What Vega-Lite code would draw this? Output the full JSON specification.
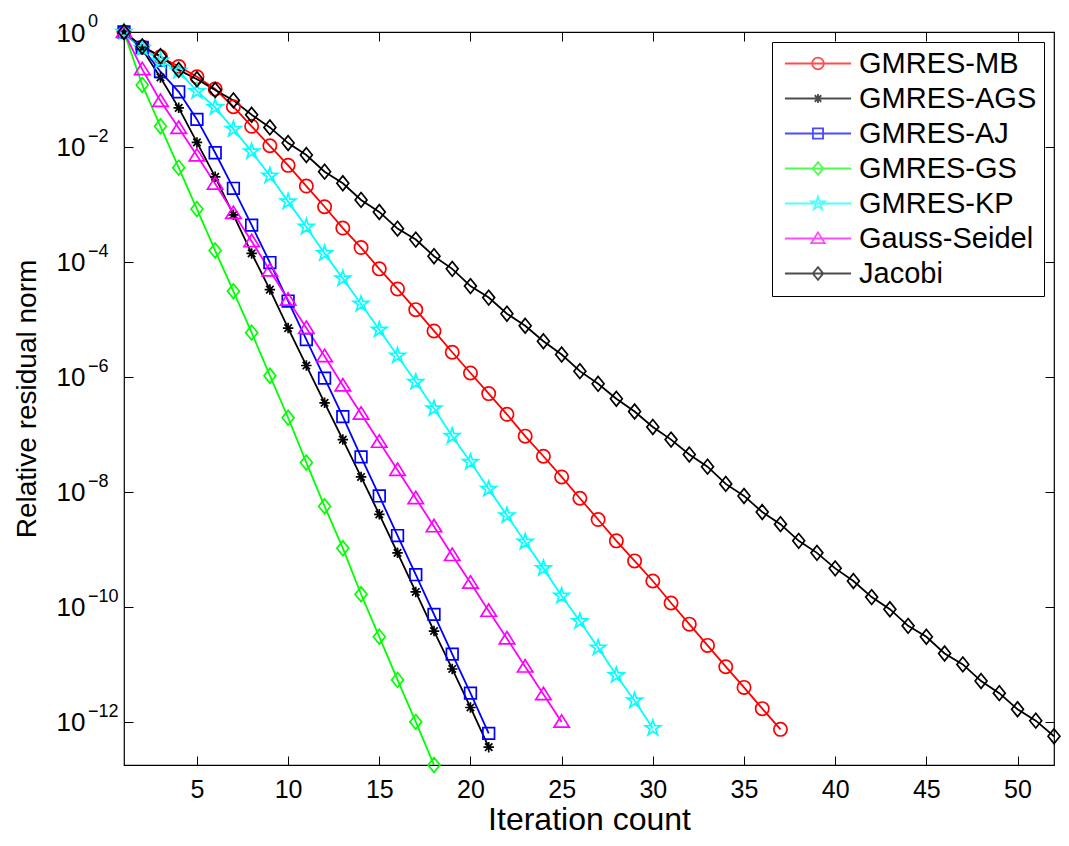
{
  "$schema": "https://vega.github.io/schema/vega-lite/v6.json",
  "width": 930,
  "height": 733,
  "autosize": {"type": "none"},
  "padding": {"left": 124, "top": 32, "right": 15, "bottom": 81},
  "background": "white",
  "config": {
    "view": {"stroke": "black", "strokeWidth": 1.2},
    "font": "Liberation Sans",
    "axis": {
      "domain": false,
      "grid": false,
      "tickColor": "black",
      "tickWidth": 1,
      "labelFont": "Liberation Sans",
      "labelFontSize": 25,
      "labelColor": "black",
      "titleFont": "Liberation Sans",
      "titleFontSize": 30,
      "titleFontWeight": "normal",
      "titleColor": "black"
    },
    "legend": {
      "labelFont": "Liberation Sans",
      "labelFontSize": 29,
      "labelColor": "black"
    }
  },
  "datasets": {
    "exponents": [
      {"tick": 1, "exp": "0"},
      {"tick": 1e-2, "exp": "−2"},
      {"tick": 1e-4, "exp": "−4"},
      {"tick": 1e-6, "exp": "−6"},
      {"tick": 1e-8, "exp": "−8"},
      {"tick": 1e-10, "exp": "−10"},
      {"tick": 1e-12, "exp": "−12"}
    ],
    "conv": [
      {"method": "GMRES-MB", "iter": 1, "residual": 1},
      {"method": "GMRES-MB", "iter": 2, "residual": 5.5e-1},
      {"method": "GMRES-MB", "iter": 3, "residual": 3.7e-1},
      {"method": "GMRES-MB", "iter": 4, "residual": 2.51e-1},
      {"method": "GMRES-MB", "iter": 5, "residual": 1.66e-1},
      {"method": "GMRES-MB", "iter": 6, "residual": 1.02e-1},
      {"method": "GMRES-MB", "iter": 7, "residual": 5.01e-2},
      {"method": "GMRES-MB", "iter": 8, "residual": 2.29e-2},
      {"method": "GMRES-MB", "iter": 9, "residual": 1.05e-2},
      {"method": "GMRES-MB", "iter": 10, "residual": 4.79e-3},
      {"method": "GMRES-MB", "iter": 11, "residual": 2.09e-3},
      {"method": "GMRES-MB", "iter": 12, "residual": 9.12e-4},
      {"method": "GMRES-MB", "iter": 13, "residual": 3.89e-4},
      {"method": "GMRES-MB", "iter": 14, "residual": 1.78e-4},
      {"method": "GMRES-MB", "iter": 15, "residual": 7.59e-5},
      {"method": "GMRES-MB", "iter": 16, "residual": 3.39e-5},
      {"method": "GMRES-MB", "iter": 17, "residual": 1.48e-5},
      {"method": "GMRES-MB", "iter": 18, "residual": 6.31e-6},
      {"method": "GMRES-MB", "iter": 19, "residual": 2.69e-6},
      {"method": "GMRES-MB", "iter": 20, "residual": 1.17e-6},
      {"method": "GMRES-MB", "iter": 21, "residual": 5.13e-7},
      {"method": "GMRES-MB", "iter": 22, "residual": 2.24e-7},
      {"method": "GMRES-MB", "iter": 23, "residual": 9.33e-8},
      {"method": "GMRES-MB", "iter": 24, "residual": 4.17e-8},
      {"method": "GMRES-MB", "iter": 25, "residual": 1.82e-8},
      {"method": "GMRES-MB", "iter": 26, "residual": 7.76e-9},
      {"method": "GMRES-MB", "iter": 27, "residual": 3.31e-9},
      {"method": "GMRES-MB", "iter": 28, "residual": 1.41e-9},
      {"method": "GMRES-MB", "iter": 29, "residual": 6.31e-10},
      {"method": "GMRES-MB", "iter": 30, "residual": 2.82e-10},
      {"method": "GMRES-MB", "iter": 31, "residual": 1.17e-10},
      {"method": "GMRES-MB", "iter": 32, "residual": 5.01e-11},
      {"method": "GMRES-MB", "iter": 33, "residual": 2.14e-11},
      {"method": "GMRES-MB", "iter": 34, "residual": 9.12e-12},
      {"method": "GMRES-MB", "iter": 35, "residual": 3.98e-12},
      {"method": "GMRES-MB", "iter": 36, "residual": 1.70e-12},
      {"method": "GMRES-MB", "iter": 37, "residual": 7.41e-13},

      {"method": "GMRES-AGS", "iter": 1, "residual": 1},
      {"method": "GMRES-AGS", "iter": 2, "residual": 5.01e-1},
      {"method": "GMRES-AGS", "iter": 3, "residual": 1.62e-1},
      {"method": "GMRES-AGS", "iter": 4, "residual": 4.79e-2},
      {"method": "GMRES-AGS", "iter": 5, "residual": 1.20e-2},
      {"method": "GMRES-AGS", "iter": 6, "residual": 3.02e-3},
      {"method": "GMRES-AGS", "iter": 7, "residual": 6.61e-4},
      {"method": "GMRES-AGS", "iter": 8, "residual": 1.41e-4},
      {"method": "GMRES-AGS", "iter": 9, "residual": 3.31e-5},
      {"method": "GMRES-AGS", "iter": 10, "residual": 7.08e-6},
      {"method": "GMRES-AGS", "iter": 11, "residual": 1.58e-6},
      {"method": "GMRES-AGS", "iter": 12, "residual": 3.55e-7},
      {"method": "GMRES-AGS", "iter": 13, "residual": 8.13e-8},
      {"method": "GMRES-AGS", "iter": 14, "residual": 1.82e-8},
      {"method": "GMRES-AGS", "iter": 15, "residual": 4.07e-9},
      {"method": "GMRES-AGS", "iter": 16, "residual": 8.71e-10},
      {"method": "GMRES-AGS", "iter": 17, "residual": 1.82e-10},
      {"method": "GMRES-AGS", "iter": 18, "residual": 3.80e-11},
      {"method": "GMRES-AGS", "iter": 19, "residual": 8.32e-12},
      {"method": "GMRES-AGS", "iter": 20, "residual": 1.78e-12},
      {"method": "GMRES-AGS", "iter": 21, "residual": 3.63e-13},

      {"method": "GMRES-AJ", "iter": 1, "residual": 1},
      {"method": "GMRES-AJ", "iter": 2, "residual": 5.37e-1},
      {"method": "GMRES-AJ", "iter": 3, "residual": 2.04e-1},
      {"method": "GMRES-AJ", "iter": 4, "residual": 9.12e-2},
      {"method": "GMRES-AJ", "iter": 5, "residual": 3.02e-2},
      {"method": "GMRES-AJ", "iter": 6, "residual": 7.94e-3},
      {"method": "GMRES-AJ", "iter": 7, "residual": 1.91e-3},
      {"method": "GMRES-AJ", "iter": 8, "residual": 4.37e-4},
      {"method": "GMRES-AJ", "iter": 9, "residual": 9.77e-5},
      {"method": "GMRES-AJ", "iter": 10, "residual": 2.09e-5},
      {"method": "GMRES-AJ", "iter": 11, "residual": 4.47e-6},
      {"method": "GMRES-AJ", "iter": 12, "residual": 9.55e-7},
      {"method": "GMRES-AJ", "iter": 13, "residual": 2.04e-7},
      {"method": "GMRES-AJ", "iter": 14, "residual": 4.07e-8},
      {"method": "GMRES-AJ", "iter": 15, "residual": 8.51e-9},
      {"method": "GMRES-AJ", "iter": 16, "residual": 1.74e-9},
      {"method": "GMRES-AJ", "iter": 17, "residual": 3.63e-10},
      {"method": "GMRES-AJ", "iter": 18, "residual": 7.41e-11},
      {"method": "GMRES-AJ", "iter": 19, "residual": 1.51e-11},
      {"method": "GMRES-AJ", "iter": 20, "residual": 3.16e-12},
      {"method": "GMRES-AJ", "iter": 21, "residual": 6.31e-13},

      {"method": "GMRES-GS", "iter": 1, "residual": 1},
      {"method": "GMRES-GS", "iter": 2, "residual": 1.20e-1},
      {"method": "GMRES-GS", "iter": 3, "residual": 2.29e-2},
      {"method": "GMRES-GS", "iter": 4, "residual": 4.37e-3},
      {"method": "GMRES-GS", "iter": 5, "residual": 8.32e-4},
      {"method": "GMRES-GS", "iter": 6, "residual": 1.58e-4},
      {"method": "GMRES-GS", "iter": 7, "residual": 3.09e-5},
      {"method": "GMRES-GS", "iter": 8, "residual": 5.89e-6},
      {"method": "GMRES-GS", "iter": 9, "residual": 1.05e-6},
      {"method": "GMRES-GS", "iter": 10, "residual": 1.95e-7},
      {"method": "GMRES-GS", "iter": 11, "residual": 3.24e-8},
      {"method": "GMRES-GS", "iter": 12, "residual": 5.62e-9},
      {"method": "GMRES-GS", "iter": 13, "residual": 1.05e-9},
      {"method": "GMRES-GS", "iter": 14, "residual": 1.66e-10},
      {"method": "GMRES-GS", "iter": 15, "residual": 3.02e-11},
      {"method": "GMRES-GS", "iter": 16, "residual": 5.37e-12},
      {"method": "GMRES-GS", "iter": 17, "residual": 1.00e-12},
      {"method": "GMRES-GS", "iter": 18, "residual": 1.78e-13},

      {"method": "GMRES-KP", "iter": 1, "residual": 1},
      {"method": "GMRES-KP", "iter": 2, "residual": 5.25e-1},
      {"method": "GMRES-KP", "iter": 3, "residual": 3.16e-1},
      {"method": "GMRES-KP", "iter": 4, "residual": 2.09e-1},
      {"method": "GMRES-KP", "iter": 5, "residual": 9.33e-2},
      {"method": "GMRES-KP", "iter": 6, "residual": 4.90e-2},
      {"method": "GMRES-KP", "iter": 7, "residual": 2.04e-2},
      {"method": "GMRES-KP", "iter": 8, "residual": 8.32e-3},
      {"method": "GMRES-KP", "iter": 9, "residual": 3.16e-3},
      {"method": "GMRES-KP", "iter": 10, "residual": 1.12e-3},
      {"method": "GMRES-KP", "iter": 11, "residual": 4.07e-4},
      {"method": "GMRES-KP", "iter": 12, "residual": 1.41e-4},
      {"method": "GMRES-KP", "iter": 13, "residual": 5.13e-5},
      {"method": "GMRES-KP", "iter": 14, "residual": 1.86e-5},
      {"method": "GMRES-KP", "iter": 15, "residual": 6.61e-6},
      {"method": "GMRES-KP", "iter": 16, "residual": 2.34e-6},
      {"method": "GMRES-KP", "iter": 17, "residual": 8.13e-7},
      {"method": "GMRES-KP", "iter": 18, "residual": 2.82e-7},
      {"method": "GMRES-KP", "iter": 19, "residual": 9.33e-8},
      {"method": "GMRES-KP", "iter": 20, "residual": 3.31e-8},
      {"method": "GMRES-KP", "iter": 21, "residual": 1.12e-8},
      {"method": "GMRES-KP", "iter": 22, "residual": 3.89e-9},
      {"method": "GMRES-KP", "iter": 23, "residual": 1.35e-9},
      {"method": "GMRES-KP", "iter": 24, "residual": 4.68e-10},
      {"method": "GMRES-KP", "iter": 25, "residual": 1.55e-10},
      {"method": "GMRES-KP", "iter": 26, "residual": 5.62e-11},
      {"method": "GMRES-KP", "iter": 27, "residual": 1.95e-11},
      {"method": "GMRES-KP", "iter": 28, "residual": 6.46e-12},
      {"method": "GMRES-KP", "iter": 29, "residual": 2.34e-12},
      {"method": "GMRES-KP", "iter": 30, "residual": 7.76e-13},

      {"method": "Gauss-Seidel", "iter": 1, "residual": 1},
      {"method": "Gauss-Seidel", "iter": 2, "residual": 2.24e-1},
      {"method": "Gauss-Seidel", "iter": 3, "residual": 6.31e-2},
      {"method": "Gauss-Seidel", "iter": 4, "residual": 2.14e-2},
      {"method": "Gauss-Seidel", "iter": 5, "residual": 7.08e-3},
      {"method": "Gauss-Seidel", "iter": 6, "residual": 2.29e-3},
      {"method": "Gauss-Seidel", "iter": 7, "residual": 7.08e-4},
      {"method": "Gauss-Seidel", "iter": 8, "residual": 2.29e-4},
      {"method": "Gauss-Seidel", "iter": 9, "residual": 7.08e-5},
      {"method": "Gauss-Seidel", "iter": 10, "residual": 2.19e-5},
      {"method": "Gauss-Seidel", "iter": 11, "residual": 7.08e-6},
      {"method": "Gauss-Seidel", "iter": 12, "residual": 2.29e-6},
      {"method": "Gauss-Seidel", "iter": 13, "residual": 7.08e-7},
      {"method": "Gauss-Seidel", "iter": 14, "residual": 2.29e-7},
      {"method": "Gauss-Seidel", "iter": 15, "residual": 7.41e-8},
      {"method": "Gauss-Seidel", "iter": 16, "residual": 2.40e-8},
      {"method": "Gauss-Seidel", "iter": 17, "residual": 7.76e-9},
      {"method": "Gauss-Seidel", "iter": 18, "residual": 2.51e-9},
      {"method": "Gauss-Seidel", "iter": 19, "residual": 7.94e-10},
      {"method": "Gauss-Seidel", "iter": 20, "residual": 2.63e-10},
      {"method": "Gauss-Seidel", "iter": 21, "residual": 8.51e-11},
      {"method": "Gauss-Seidel", "iter": 22, "residual": 2.82e-11},
      {"method": "Gauss-Seidel", "iter": 23, "residual": 9.12e-12},
      {"method": "Gauss-Seidel", "iter": 24, "residual": 3.02e-12},
      {"method": "Gauss-Seidel", "iter": 25, "residual": 1.00e-12},

      {"method": "Jacobi", "iter": 1, "residual": 1},
      {"method": "Jacobi", "iter": 2, "residual": 5.62e-1},
      {"method": "Jacobi", "iter": 3, "residual": 3.80e-1},
      {"method": "Jacobi", "iter": 4, "residual": 2.19e-1},
      {"method": "Jacobi", "iter": 5, "residual": 1.51e-1},
      {"method": "Jacobi", "iter": 6, "residual": 9.77e-2},
      {"method": "Jacobi", "iter": 7, "residual": 6.46e-2},
      {"method": "Jacobi", "iter": 8, "residual": 3.63e-2},
      {"method": "Jacobi", "iter": 9, "residual": 2.19e-2},
      {"method": "Jacobi", "iter": 10, "residual": 1.17e-2},
      {"method": "Jacobi", "iter": 11, "residual": 7.24e-3},
      {"method": "Jacobi", "iter": 12, "residual": 3.72e-3},
      {"method": "Jacobi", "iter": 13, "residual": 2.34e-3},
      {"method": "Jacobi", "iter": 14, "residual": 1.20e-3},
      {"method": "Jacobi", "iter": 15, "residual": 7.41e-4},
      {"method": "Jacobi", "iter": 16, "residual": 3.80e-4},
      {"method": "Jacobi", "iter": 17, "residual": 2.45e-4},
      {"method": "Jacobi", "iter": 18, "residual": 1.26e-4},
      {"method": "Jacobi", "iter": 19, "residual": 7.59e-5},
      {"method": "Jacobi", "iter": 20, "residual": 3.80e-5},
      {"method": "Jacobi", "iter": 21, "residual": 2.40e-5},
      {"method": "Jacobi", "iter": 22, "residual": 1.26e-5},
      {"method": "Jacobi", "iter": 23, "residual": 7.76e-6},
      {"method": "Jacobi", "iter": 24, "residual": 4.17e-6},
      {"method": "Jacobi", "iter": 25, "residual": 2.45e-6},
      {"method": "Jacobi", "iter": 26, "residual": 1.26e-6},
      {"method": "Jacobi", "iter": 27, "residual": 7.59e-7},
      {"method": "Jacobi", "iter": 28, "residual": 4.17e-7},
      {"method": "Jacobi", "iter": 29, "residual": 2.51e-7},
      {"method": "Jacobi", "iter": 30, "residual": 1.35e-7},
      {"method": "Jacobi", "iter": 31, "residual": 8.13e-8},
      {"method": "Jacobi", "iter": 32, "residual": 4.47e-8},
      {"method": "Jacobi", "iter": 33, "residual": 2.75e-8},
      {"method": "Jacobi", "iter": 34, "residual": 1.38e-8},
      {"method": "Jacobi", "iter": 35, "residual": 8.51e-9},
      {"method": "Jacobi", "iter": 36, "residual": 4.47e-9},
      {"method": "Jacobi", "iter": 37, "residual": 2.75e-9},
      {"method": "Jacobi", "iter": 38, "residual": 1.41e-9},
      {"method": "Jacobi", "iter": 39, "residual": 8.71e-10},
      {"method": "Jacobi", "iter": 40, "residual": 4.68e-10},
      {"method": "Jacobi", "iter": 41, "residual": 2.82e-10},
      {"method": "Jacobi", "iter": 42, "residual": 1.48e-10},
      {"method": "Jacobi", "iter": 43, "residual": 9.12e-11},
      {"method": "Jacobi", "iter": 44, "residual": 4.68e-11},
      {"method": "Jacobi", "iter": 45, "residual": 3.02e-11},
      {"method": "Jacobi", "iter": 46, "residual": 1.55e-11},
      {"method": "Jacobi", "iter": 47, "residual": 1.00e-11},
      {"method": "Jacobi", "iter": 48, "residual": 5.13e-12},
      {"method": "Jacobi", "iter": 49, "residual": 3.16e-12},
      {"method": "Jacobi", "iter": 50, "residual": 1.66e-12},
      {"method": "Jacobi", "iter": 51, "residual": 1.05e-12},
      {"method": "Jacobi", "iter": 52, "residual": 5.62e-13}
    ]
  },
  "resolve": {
    "axis": {"x": "independent", "y": "independent"},
    "scale": {"color": "independent", "shape": "independent", "stroke": "independent"}
  },
  "layer": [
    {
      "data": {"name": "conv"},
      "mark": {"type": "line", "strokeWidth": 1.8, "clip": false},
      "encoding": {
        "x": {
          "field": "iter", "type": "quantitative",
          "scale": {"domain": [1, 52], "nice": false, "zero": false},
          "axis": {"orient": "bottom", "values": [5, 10, 15, 20, 25, 30, 35, 40, 45, 50], "tickSize": -9, "labelPadding": 21, "title": "Iteration count", "titleFontSize": 32, "titlePadding": 2, "labelFlush": false}
        },
        "y": {
          "field": "residual", "type": "quantitative",
          "scale": {"type": "log", "domain": [1.778e-13, 1], "nice": false},
          "axis": {
            "orient": "left",
            "values": [1e-12, 1e-10, 1e-8, 1e-6, 1e-4, 1e-2, 1],
            "tickSize": -9,
            "labelPadding": 48,
            "labelAlign": "right",
            "labelBaseline": "middle",
            "labelFontSize": 26,
            "labelOffset": 1,
            "labelFlush": false,
            "labelExpr": "'10'",
            "title": "Relative residual norm",
            "titleFontSize": 28,
            "titlePadding": 15
          }
        },
        "color": {
          "field": "method", "type": "nominal",
          "scale": {
            "domain": ["GMRES-MB", "GMRES-AGS", "GMRES-AJ", "GMRES-GS", "GMRES-KP", "Gauss-Seidel", "Jacobi"],
            "range": ["#ff0000", "#000000", "#0000ff", "#00ff00", "#00ffff", "#ff00ff", "#000000"]
          },
          "legend": null
        }
      }
    },
    {
      "data": {"name": "conv"},
      "mark": {"type": "point", "filled": false, "strokeWidth": 1.7, "size": 196, "opacity": 1, "clip": false},
      "encoding": {
        "x": {
          "field": "iter", "type": "quantitative",
          "axis": {"orient": "top", "values": [5, 10, 15, 20, 25, 30, 35, 40, 45, 50], "tickSize": -9, "labels": false, "title": null}
        },
        "y": {
          "field": "residual", "type": "quantitative",
          "axis": {"orient": "right", "values": [1e-12, 1e-10, 1e-8, 1e-6, 1e-4, 1e-2, 1], "tickSize": -9, "labels": false, "title": null}
        },
        "stroke": {
          "field": "method", "type": "nominal",
          "scale": {
            "domain": ["GMRES-MB", "GMRES-AGS", "GMRES-AJ", "GMRES-GS", "GMRES-KP", "Gauss-Seidel", "Jacobi"],
            "range": ["#ff0000", "#000000", "#0000ff", "#00ff00", "#00ffff", "#ff00ff", "#000000"]
          },
          "legend": null
        },
        "shape": {
          "field": "method", "type": "nominal",
          "scale": {
            "domain": ["GMRES-MB", "GMRES-AGS", "GMRES-AJ", "GMRES-GS", "GMRES-KP", "Gauss-Seidel", "Jacobi"],
            "range": [
              "M0.95,0 A0.95,0.95 0 1,1 -0.95,0 A0.95,0.95 0 1,1 0.95,0 Z",
              "M0,-0.75 V0.75 M-0.75,0 H0.75 M-0.53,-0.53 L0.53,0.53 M-0.53,0.53 L0.53,-0.53",
              "M-0.83,-0.83 H0.83 V0.83 H-0.83 Z",
              "M0,-1.05 L0.85,0 L0,1.05 L-0.85,0 Z",
              "M0,-1.15 L0.259,-0.355 L1.094,-0.355 L0.417,0.136 L0.676,0.93 L0,0.439 L-0.676,0.93 L-0.417,0.136 L-1.094,-0.355 L-0.259,-0.355 Z",
              "M0,-1 L1.1,0.76 L-1.1,0.76 Z",
              "M0,-1.05 L0.85,0 L0,1.05 L-0.85,0 Z"
            ]
          },
          "legend": null
        }
      }
    },
    {
      "data": {"name": "exponents"},
      "mark": {"type": "text", "align": "left", "baseline": "middle", "font": "Liberation Sans", "fontSize": 18, "color": "black", "dx": -36, "dy": -10},
      "encoding": {
        "x": {"datum": 1, "type": "quantitative", "axis": null},
        "y": {"field": "tick", "type": "quantitative", "axis": null},
        "text": {"field": "exp", "type": "nominal"}
      }
    },
    {
      "data": {"name": "conv"},
      "transform": [{"filter": "datum.iter < 0"}],
      "mark": {"type": "point", "filled": false, "strokeWidth": 1.8, "size": 150},
      "encoding": {
        "x": {"field": "iter", "type": "quantitative", "axis": null},
        "y": {"field": "residual", "type": "quantitative", "axis": null},
        "color": {
          "field": "method", "type": "nominal",
          "scale": {
            "domain": ["GMRES-MB", "GMRES-AGS", "GMRES-AJ", "GMRES-GS", "GMRES-KP", "Gauss-Seidel", "Jacobi"],
            "range": ["#ff0000", "#000000", "#0000ff", "#00ff00", "#00ffff", "#ff00ff", "#000000"]
          },
          "legend": {
            "title": null,
            "orient": "top-right",
            "offset": 10,
            "padding": 7,
            "strokeColor": "black",
            "fillColor": "white",
            "symbolSize": 150,
            "symbolStrokeWidth": 1.8,
            "labelOffset": 51,
            "rowPadding": 5,
            "labelLimit": 400
          }
        },
        "shape": {
          "field": "method", "type": "nominal",
          "scale": {
            "domain": ["GMRES-MB", "GMRES-AGS", "GMRES-AJ", "GMRES-GS", "GMRES-KP", "Gauss-Seidel", "Jacobi"],
            "range": [
              "M-1.4,0 H9.4 M4.95,0 A0.95,0.95 0 1,1 3.05,0 A0.95,0.95 0 1,1 4.95,0 Z",
              "M-1.4,0 H9.4 M4,-0.75 V0.75 M3.25,0 H4.75 M3.47,-0.53 L4.53,0.53 M3.47,0.53 L4.53,-0.53",
              "M-1.4,0 H9.4 M3.17,-0.83 H4.83 V0.83 H3.17 Z",
              "M-1.4,0 H9.4 M4,-1.05 L4.85,0 L4,1.05 L3.15,0 Z",
              "M-1.4,0 H9.4 M4,-1.15 L4.259,-0.355 L5.094,-0.355 L4.417,0.136 L4.676,0.93 L4,0.439 L3.324,0.93 L3.583,0.136 L2.906,-0.355 L3.741,-0.355 Z",
              "M-1.4,0 H9.4 M4,-1 L5.1,0.76 L2.9,0.76 Z",
              "M-1.4,0 H9.4 M4,-1.05 L4.85,0 L4,1.05 L3.15,0 Z"
            ]
          },
          "legend": {
            "title": null,
            "orient": "top-right",
            "offset": 10,
            "padding": 7,
            "strokeColor": "black",
            "fillColor": "white",
            "symbolSize": 150,
            "symbolStrokeWidth": 1.8,
            "labelOffset": 51,
            "rowPadding": 5,
            "labelLimit": 400
          }
        }
      }
    }
  ]
}
